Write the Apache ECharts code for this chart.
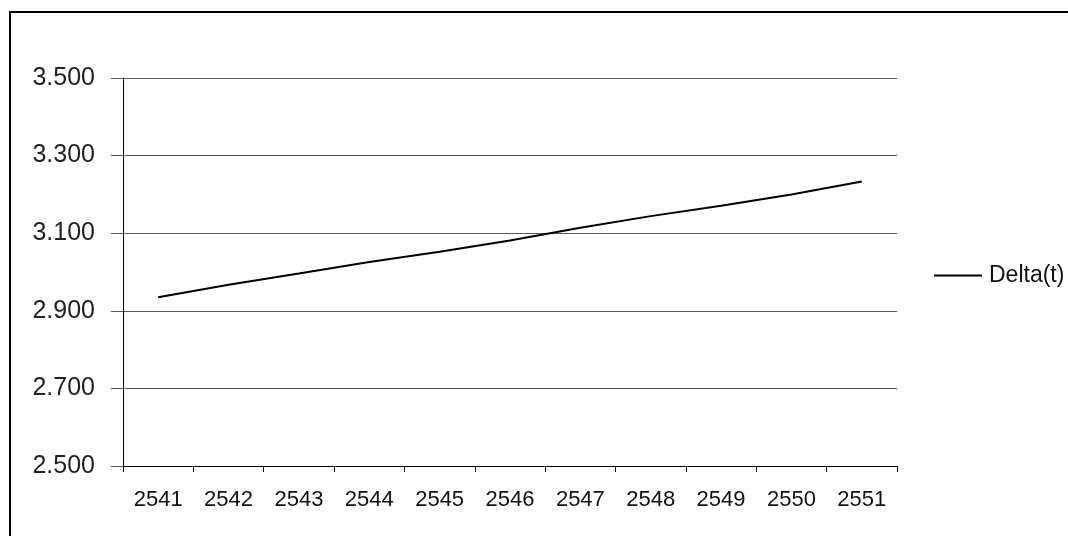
<!DOCTYPE html>
<html>
<head>
<meta charset="utf-8">
<script src="https://cdn.jsdelivr.net/npm/echarts@6/dist/echarts.min.js"></script>
<style>
  html, body { margin: 0; padding: 0; background: #fff; }
  #chart { width: 1068px; height: 536px; }
</style>
</head>
<body>
<div id="chart"></div>
<script>
'use strict';

var years = ['2541', '2542', '2543', '2544', '2545', '2546', '2547', '2548', '2549', '2550', '2551'];
var delta = [2.935, 2.967, 2.996, 3.026, 3.052, 3.081, 3.114, 3.144, 3.171, 3.200, 3.233];

var chart = echarts.init(document.getElementById('chart'));

chart.setOption({
  animation: false,
  backgroundColor: '#fff',
  grid: { left: 123, right: 171, top: 78, bottom: 70 },
  graphic: [{
    type: 'rect',
    shape: { x: 10, y: 12, width: 1200, height: 700 },
    style: { fill: 'none', stroke: '#000', lineWidth: 2 },
    silent: true
  }],
  legend: {
    data: ['Delta(t)'],
    left: 929,
    top: 259,
    icon: 'rect',
    itemWidth: 48,
    itemHeight: 2,
    itemGap: 8,
    textStyle: { fontFamily: 'Liberation Sans', fontSize: 23, color: '#111', padding: [0, 0, 0, 2] }
  },
  xAxis: {
    type: 'category',
    data: years,
    boundaryGap: true,
    axisLine: { lineStyle: { color: '#000', width: 1 } },
    axisTick: { show: true, length: 6, alignWithLabel: false, lineStyle: { color: '#000' } },
    axisLabel: { margin: 23, fontFamily: 'Liberation Sans', fontSize: 22, color: '#111' },
    splitLine: { show: false }
  },
  yAxis: {
    type: 'value',
    min: 2.5,
    max: 3.5,
    interval: 0.2,
    axisLine: { show: true, lineStyle: { color: '#000', width: 1 } },
    axisTick: { show: true, length: 12, lineStyle: { color: '#555' } },
    axisLabel: {
      margin: 28,
      fontFamily: 'Liberation Sans',
      fontSize: 25,
      color: '#222',
      formatter: function (v) { return v.toFixed(3); }
    },
    splitLine: { show: true, lineStyle: { color: '#555', width: 1 } }
  },
  series: [{
    name: 'Delta(t)',
    type: 'line',
    data: delta,
    showSymbol: false,
    symbol: 'none',
    smooth: false,
    itemStyle: { color: '#000' },
    lineStyle: { color: '#000', width: 2 }
  }]
});
</script>
</body>
</html>
